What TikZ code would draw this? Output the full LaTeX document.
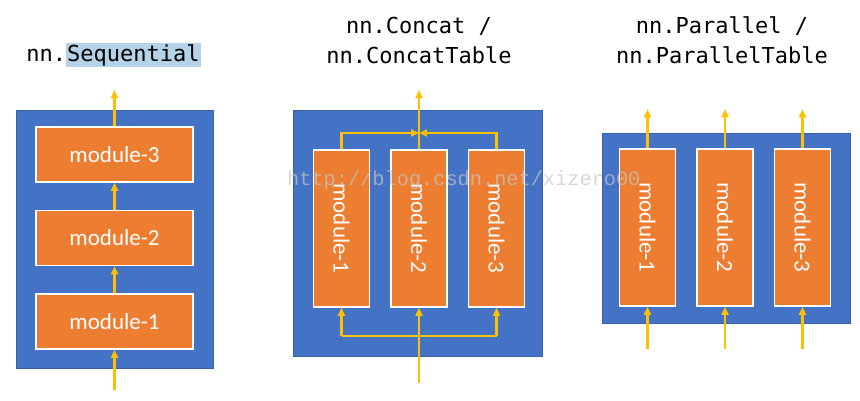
\documentclass[tikz,border=0pt]{standalone}
\usepackage{fontspec}
\usepackage{graphicx}
\setsansfont{Carlito}
\setmonofont{DejaVu Sans Mono}
\newfontfamily\wmfont{Liberation Mono}
\usetikzlibrary{arrows.meta,positioning}
\definecolor{boxblue}{HTML}{4472C4}
\definecolor{modorange}{HTML}{ED7D31}
\definecolor{flowgold}{HTML}{FFC000}
\definecolor{hlblue}{HTML}{B4D3E8}
\setlength{\fboxsep}{1pt}

\begin{document}
\begin{tikzpicture}[x=1pt,y=1pt]
\tikzstyle{panel}=[rectangle, fill=boxblue, draw=boxblue!85!black, line width=0.6pt, inner sep=0pt]
\tikzstyle{module}=[rectangle, fill=modorange, draw=white, line width=1.5pt, inner sep=0pt, text=white, font=\sffamily\fontsize{23}{23}\selectfont]
\tikzstyle{hmodule}=[module, minimum width=157pt, minimum height=55pt]
\tikzstyle{vmodule}=[module, minimum width=56pt, minimum height=157pt]
\tikzstyle{title}=[font=\ttfamily\fontsize{22}{30}\selectfont, align=center, inner sep=0pt]
\tikzstyle{connect}=[-{Triangle[length=8pt,width=7pt]}, line width=2.2pt, draw=flowgold]
\tikzstyle{bus}=[line width=2.2pt, draw=flowgold]
\useasboundingbox (0,0) rectangle (860,400);
% nn.Sequential
\node[title] (tseq) at (113.5,345) {nn.\colorbox{hlblue}{Sequential}};
\node[panel, minimum width=197pt, minimum height=258pt] (seq) at (114.5,161) {};
\node[hmodule] (s1) at (114.5,78.5) {module-1};
\node[hmodule] (s2) [above =27pt of s1] {module-2};
\node[hmodule] (s3) [above =27pt of s2] {module-3};
\coordinate (sin) at (114.5,10);
\coordinate (sout) at (114.5,310);
\path (sin) edge[connect] (s1.south)
      (s1.north) edge[connect] (s2.south)
      (s2.north) edge[connect] (s3.south)
      (s3.north) edge[connect] (sout);
% nn.Concat / nn.ConcatTable
\node[title] (tcat) at (419,360) {nn.Concat /\\nn.ConcatTable};
\node[panel, minimum width=249pt, minimum height=246pt] (cat) at (417.5,167) {};
\node[vmodule] (c2) at (419,171.5) {\rotatebox{-90}{module-2}};
\node[vmodule] (c1) [left =20pt of c2] {\rotatebox{-90}{module-1}};
\node[vmodule] (c3) [right =20pt of c2] {\rotatebox{-90}{module-3}};
\coordinate (cjoin) at (419,267);
\coordinate (csplit) at (419,64);
\coordinate (cin) at (419,17);
\coordinate (cout) at (419,310);
\draw[connect] (c1.north) |- (cjoin);
\draw[connect] (c3.north) |- (cjoin);
\draw[connect] (c2.north) -- (cout);
\draw[bus] (c1.south |- csplit) -- (c3.south |- csplit);
\draw[connect] (cin) -- (c2.south);
\draw[connect] (c1.south |- csplit) -- (c1.south);
\draw[connect] (c3.south |- csplit) -- (c3.south);
% nn.Parallel / nn.ParallelTable
\node[title] (tpar) at (722,360) {nn.Parallel /\\nn.ParallelTable};
\node[panel, minimum width=248pt, minimum height=190pt] (par) at (726,172) {};
\node[vmodule] (p2) at (725,172.5) {\rotatebox{-90}{module-2}};
\node[vmodule] (p1) [left =20pt of p2] {\rotatebox{-90}{module-1}};
\node[vmodule] (p3) [right =20pt of p2] {\rotatebox{-90}{module-3}};
\foreach \p in {p1,p2,p3} {
  \coordinate (\p in) at ([yshift=-42pt]\p.south);
  \coordinate (\p out) at ([yshift=39pt]\p.north);
  \draw[connect] (\p in) -- (\p.south);
  \draw[connect] (\p.north) -- (\p out);
}
% watermark
\node[anchor=base west, inner sep=0pt, text=gray!45, opacity=0.7, font=\wmfont\fontsize{20.3}{20.3}\selectfont] (wm) at (287,215) {http://blog.csdn.net/xizero00};
\end{tikzpicture}
\end{document}
